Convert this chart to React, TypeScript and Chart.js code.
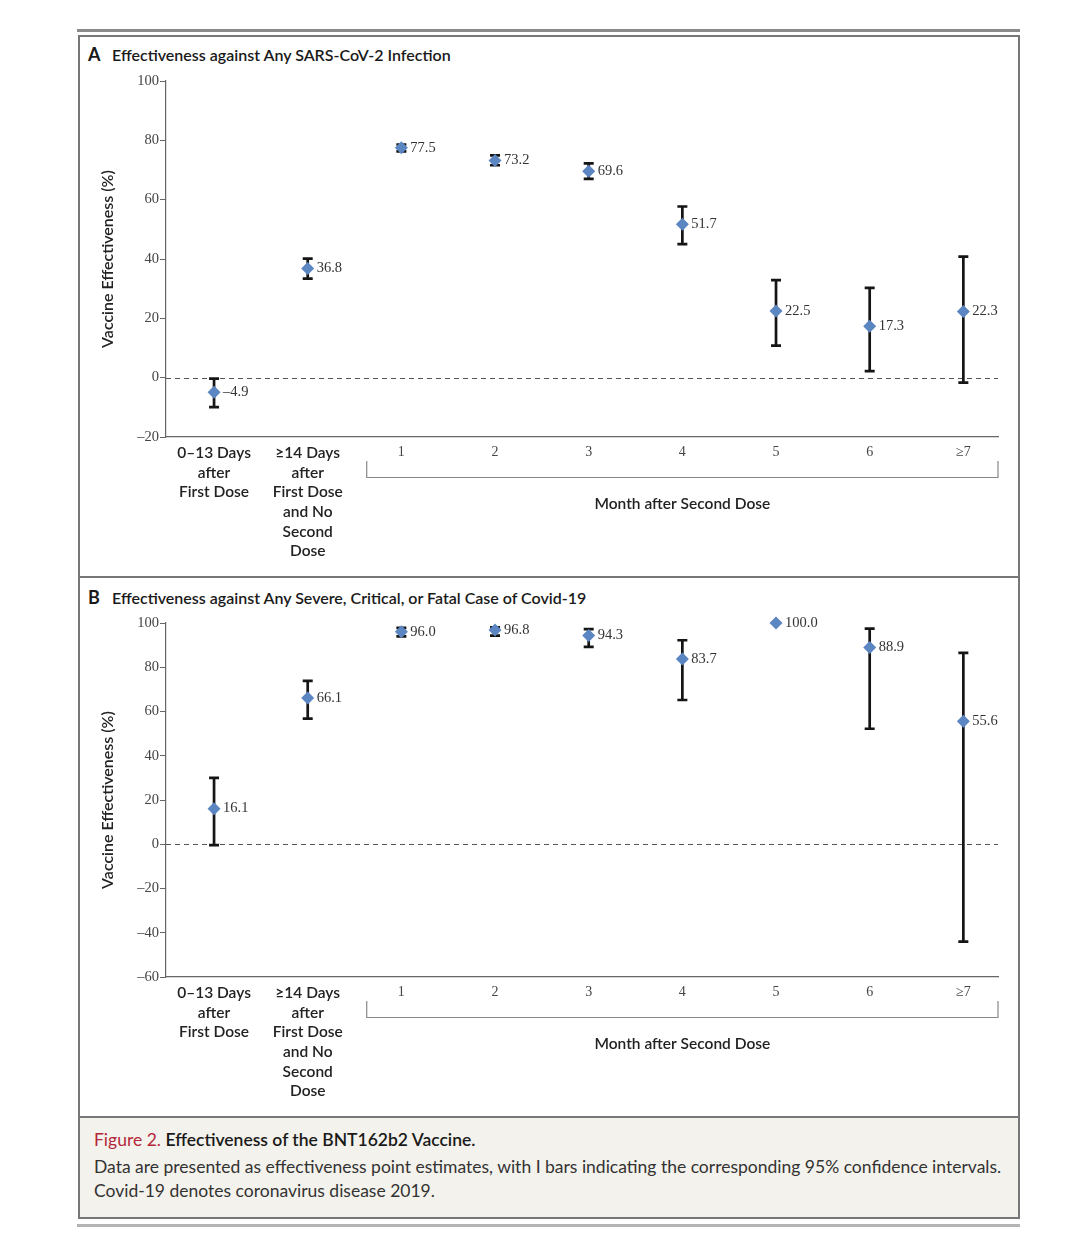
import React, { useEffect, useRef } from "react";
import { Chart, registerables } from "chart.js";

Chart.register(...registerables);

// ---------- data ----------
const categories: (string | string[])[] = [
  ["0–13 Days", "after", "First Dose"],
  ["≥14 Days", "after", "First Dose", "and No", "Second", "Dose"],
  "1",
  "2",
  "3",
  "4",
  "5",
  "6",
  "≥7",
];

const infectionValues = [-4.9, 36.8, 77.5, 73.2, 69.6, 51.7, 22.5, 17.3, 22.3];
const infectionLower = [-9.9, 33.4, 76.3, 71.6, 67.0, 45.0, 10.8, 2.2, -1.7];
const infectionUpper = [-0.3, 40.1, 78.6, 74.9, 72.2, 57.7, 32.9, 30.3, 40.8];
const infectionTicks = [-20, 0, 20, 40, 60, 80, 100];

const severeValues = [16.1, 66.1, 96.0, 96.8, 94.3, 83.7, 100.0, 88.9, 55.6];
const severeLower: (number | null)[] = [-0.4, 56.8, 94.0, 94.3, 89.2, 65.2, null, 52.2, -44.0];
const severeUpper: (number | null)[] = [30.0, 73.8, 97.8, 98.0, 97.2, 92.2, null, 97.5, 86.5];
const severeTicks = [-60, -40, -20, 0, 20, 40, 60, 80, 100];

const monthGroupLabel = "Month after Second Dose";
const yAxisTitle = "Vaccine Effectiveness (%)";

// ---------- styles ----------
const SANS = "Lato, 'Noto Sans', sans-serif";
const SERIF = "'Liberation Serif', 'DejaVu Serif', serif";
const BLUE = "#5b86c1";
const X_MIN = -0.513;
const X_MAX = 8.37;

const fmt = (v: number) => (v < 0 ? "–" + Math.abs(v).toFixed(1) : v.toFixed(1));
const fmtTick = (v: number) => (v < 0 ? "–" + Math.abs(v) : String(v));

function makeConfig(
  values: number[],
  lower: (number | null)[],
  upper: (number | null)[],
  ticks: number[]
): any {
  const errorBarPlugin = {
    id: "errorBars",
    beforeDatasetsDraw(chart: any) {
      const { ctx, scales, chartArea } = chart;
      const xs = scales.x;
      const ys = scales.y;
      ctx.save();
      // zero reference line
      ctx.strokeStyle = "#555";
      ctx.lineWidth = 1;
      ctx.setLineDash([5, 4]);
      const y0 = Math.round(ys.getPixelForValue(0)) + 0.5;
      ctx.beginPath();
      ctx.moveTo(chartArea.left, y0);
      ctx.lineTo(chartArea.right, y0);
      ctx.stroke();
      ctx.setLineDash([]);
      // error bars
      ctx.strokeStyle = "#151515";
      ctx.lineWidth = 2.7;
      values.forEach((_, i) => {
        const lo = lower[i];
        const hi = upper[i];
        if (lo == null || hi == null) return;
        const x = xs.getPixelForValue(i);
        const yl = ys.getPixelForValue(lo);
        const yh = ys.getPixelForValue(hi);
        ctx.beginPath();
        ctx.moveTo(x, yl);
        ctx.lineTo(x, yh);
        ctx.moveTo(x - 5, yl);
        ctx.lineTo(x + 5, yl);
        ctx.moveTo(x - 5, yh);
        ctx.lineTo(x + 5, yh);
        ctx.stroke();
      });
      ctx.restore();
    },
    afterDatasetsDraw(chart: any) {
      const { ctx, scales } = chart;
      ctx.save();
      ctx.font = `14.5px ${SERIF}`;
      ctx.fillStyle = "#333";
      ctx.textAlign = "left";
      ctx.textBaseline = "middle";
      values.forEach((v, i) => {
        const x = scales.x.getPixelForValue(i);
        const y = scales.y.getPixelForValue(v);
        ctx.fillText(fmt(v), x + 9, y);
      });
      ctx.restore();
    },
    afterDraw(chart: any) {
      const { ctx, scales, chartArea } = chart;
      const left = scales.x.getPixelForValue(1.63);
      const right = chartArea.right;
      const b = chartArea.bottom;
      ctx.save();
      ctx.strokeStyle = "#888";
      ctx.lineWidth = 1.2;
      ctx.beginPath();
      ctx.moveTo(left, b + 24);
      ctx.lineTo(left, b + 40.5);
      ctx.lineTo(right, b + 40.5);
      ctx.lineTo(right, b + 24);
      ctx.stroke();
      ctx.font = `600 15.5px ${SANS}`;
      ctx.fillStyle = "#222";
      ctx.textAlign = "center";
      ctx.textBaseline = "middle";
      ctx.fillText(monthGroupLabel, (left + right) / 2, b + 67);
      ctx.restore();
    },
  };

  return {
    type: "scatter",
    data: {
      datasets: [
        {
          data: values.map((v, i) => ({ x: i, y: v })),
          pointStyle: "rectRot",
          pointRadius: 6.5,
          pointHoverRadius: 6.5,
          backgroundColor: BLUE,
          borderColor: BLUE,
          borderWidth: 0,
          showLine: false,
          clip: false,
        },
      ],
    },
    options: {
      responsive: false,
      animation: false,
      events: [],
      layout: { padding: { top: 15, right: 20, left: 0, bottom: 0 } },
      plugins: { legend: { display: false }, tooltip: { enabled: false } },
      scales: {
        x: {
          type: "linear",
          min: X_MIN,
          max: X_MAX,
          afterBuildTicks(scale: any) {
            scale.ticks = categories.map((_, i) => ({ value: i }));
          },
          afterFit(scale: any) {
            scale.height = 139;
          },
          grid: { display: false, drawTicks: false },
          border: { display: true, color: "#666", width: 1.2 },
          ticks: {
            autoSkip: false,
            maxRotation: 0,
            padding: 6,
            callback: (_v: any, i: number) => categories[i],
            font: (c: any) =>
              c.index < 2
                ? { family: SANS, size: 15.5, weight: "600", lineHeight: 1.27 }
                : { family: SERIF, size: 14, weight: "normal", lineHeight: 1.27 },
            color: (c: any) => (c.index < 2 ? "#222" : "#444"),
          },
        },
        y: {
          type: "linear",
          min: ticks[0],
          max: ticks[ticks.length - 1],
          afterBuildTicks(scale: any) {
            scale.ticks = ticks.map((t) => ({ value: t }));
          },
          afterFit(scale: any) {
            scale.width = 86;
          },
          grid: { drawOnChartArea: false, drawTicks: true, tickLength: 6, color: "#666", lineWidth: 1 },
          border: { display: true, color: "#666", width: 1.2 },
          ticks: {
            padding: 1,
            font: { family: SERIF, size: 14.5 },
            color: "#444",
            callback: (v: any) => fmtTick(Number(v)),
          },
          title: {
            display: true,
            text: yAxisTitle,
            font: { family: SANS, size: 16, weight: "600" },
            color: "#222",
            padding: { top: 18, bottom: 0 },
          },
        },
      },
    },
    plugins: [errorBarPlugin],
  };
}

function Panel(props: {
  values: number[];
  lower: (number | null)[];
  upper: (number | null)[];
  ticks: number[];
  width: number;
  height: number;
}) {
  const ref = useRef<HTMLCanvasElement | null>(null);
  useEffect(() => {
    if (!ref.current) return;
    const chart = new Chart(ref.current, makeConfig(props.values, props.lower, props.upper, props.ticks));
    return () => chart.destroy();
  }, []);
  return <canvas ref={ref} width={props.width} height={props.height} style={{ display: "block" }} />;
}

export default function App() {
  const abs = (l: number, t: number, w: number, h: number, extra: any = {}) => ({
    position: "absolute" as const,
    left: l,
    top: t,
    width: w,
    height: h,
    ...extra,
  });
  const titleStyle = (top: number) => ({
    position: "absolute" as const,
    left: 88,
    top,
    display: "flex",
    alignItems: "baseline",
    fontFamily: SANS,
    color: "#1a1a1a",
    whiteSpace: "nowrap" as const,
  });
  return (
    <div style={abs(0, 0, 1080, 1239, { background: "#fff", overflow: "hidden" })}>
      {/* top rule */}
      <div style={abs(77, 29, 943, 3, { background: "#8a8a8a" })} />
      {/* frame */}
      <div style={abs(78, 35, 942, 1184, { border: "2px solid #777", boxSizing: "border-box" })} />
      {/* separators */}
      <div style={abs(78, 576, 942, 2, { background: "#777" })} />
      <div style={abs(78, 1116, 942, 2, { background: "#777" })} />
      {/* caption background */}
      <div style={abs(80, 1118, 938, 99, { background: "#f4f2ec" })} />
      {/* bottom rule */}
      <div style={abs(77, 1224, 943, 3, { background: "#b4b4b4" })} />

      {/* Panel A */}
      <div style={titleStyle(43)}>
        <span style={{ fontWeight: 700, fontSize: 18, width: 24 }}>A</span>
        <span style={{ fontWeight: 600, fontSize: 16 }}>Effectiveness against Any SARS-CoV-2 Infection</span>
      </div>
      <div style={abs(80, 66, 938, 510)}>
        <Panel values={infectionValues} lower={infectionLower} upper={infectionUpper} ticks={infectionTicks} width={938} height={510} />
      </div>

      {/* Panel B */}
      <div style={titleStyle(586)}>
        <span style={{ fontWeight: 700, fontSize: 18, width: 24 }}>B</span>
        <span style={{ fontWeight: 600, fontSize: 16 }}>
          Effectiveness against Any Severe, Critical, or Fatal Case of Covid-19
        </span>
      </div>
      <div style={abs(80, 608, 938, 508)}>
        <Panel values={severeValues} lower={severeLower} upper={severeUpper} ticks={severeTicks} width={938} height={508} />
      </div>

      {/* Caption */}
      <div style={abs(94, 1127, 920, 90, { fontFamily: SANS, color: "#333" })}>
        <div style={{ fontSize: 17.5, lineHeight: "25px", whiteSpace: "nowrap" }}>
          <span style={{ color: "#b3283a" }}>Figure 2.</span>{" "}
          <span style={{ color: "#1a1a1a", fontWeight: 600 }}>Effectiveness of the BNT162b2 Vaccine.</span>
        </div>
        <div style={{ fontSize: 17.5, lineHeight: "24px", marginTop: 3, whiteSpace: "nowrap" }}>
          Data are presented as effectiveness point estimates, with I bars indicating the corresponding 95% confidence intervals.
        </div>
        <div style={{ fontSize: 17.5, lineHeight: "24px", whiteSpace: "nowrap" }}>Covid-19 denotes coronavirus disease 2019.</div>
      </div>
    </div>
  );
}
